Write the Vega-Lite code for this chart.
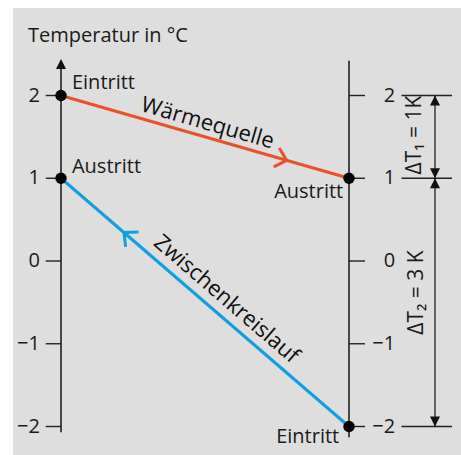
{
  "$schema": "https://vega.github.io/schema/vega-lite/v6.json",
  "width": 448,
  "height": 447,
  "padding": {"left": 13, "top": 8, "right": 0, "bottom": 0},
  "autosize": {"type": "none"},
  "background": "white",
  "config": {"view": {"fill": "#dedede", "stroke": null}, "font": "Open Sans"},
  "datasets": {
    "axes": [{"x": 0, "y": -2.07, "y2": 2.33}, {"x": 1, "y": -2.13, "y2": 2.42}],
    "ticks": [
      {"x": -0.053, "x2": 0, "y": 2}, {"x": -0.053, "x2": 0, "y": 1}, {"x": -0.053, "x2": 0, "y": 0}, {"x": -0.053, "x2": 0, "y": -1}, {"x": -0.053, "x2": 0, "y": -2},
      {"x": 1, "x2": 1.0556, "y": 2}, {"x": 1, "x2": 1.0556, "y": 1}, {"x": 1, "x2": 1.0556, "y": 0}, {"x": 1, "x2": 1.0556, "y": -1}, {"x": 1, "x2": 1.0556, "y": -2}
    ],
    "ticklabels": [
      {"x": -0.073, "y": 2, "label": "2"}, {"x": -0.073, "y": 1, "label": "1"}, {"x": -0.073, "y": 0, "label": "0"}, {"x": -0.073, "y": -1, "label": "−1"}, {"x": -0.073, "y": -2, "label": "−2"},
      {"x": 1.16, "y": 2, "label": "2"}, {"x": 1.16, "y": 1, "label": "1"}, {"x": 1.16, "y": 0, "label": "0"}, {"x": 1.16, "y": -1, "label": "−1"}, {"x": 1.16, "y": -2, "label": "−2"}
    ],
    "dimlines": [{"x": 1.1823, "x2": 1.3576, "y": 2}, {"x": 1.1823, "x2": 1.3576, "y": 1}, {"x": 1.1823, "x2": 1.3576, "y": -2}],
    "dimarrows": [{"x": 1.2986, "y": 2, "y2": 1}, {"x": 1.2986, "y": 1, "y2": -2}],
    "headsup": [{"x": 1.2986, "y": 2}, {"x": 1.2986, "y": 1}, {"x": 0, "y": 2.44}],
    "headsdown": [{"x": 1.2986, "y": 1}, {"x": 1.2986, "y": -2}],
    "lines": [
      {"series": "Wärmequelle", "x": 0, "y": 2}, {"series": "Wärmequelle", "x": 1, "y": 1},
      {"series": "Zwischenkreislauf", "x": 0, "y": 1}, {"series": "Zwischenkreislauf", "x": 1, "y": -2}
    ],
    "chevred": [{"x": 0.7837, "y": 1.2163}],
    "chevblue": [{"x": 0.2188, "y": 0.3437}],
    "labelsleft": [{"x": 0.038, "y": 2.157, "label": "Eintritt"}, {"x": 0.038, "y": 1.13, "label": "Austritt"}],
    "labelsright": [{"x": 0.98, "y": 0.834, "label": "Austritt"}, {"x": 0.966, "y": -2.127, "label": "Eintritt"}],
    "namered": [{"x": 0.509, "y": 1.668, "label": "Wärmequelle"}],
    "nameblue": [{"x": 0.5747, "y": -0.459, "label": "Zwischenkreislauf"}],
    "deltas": [{"x": 1.2309, "y": 1.5227, "label": "ΔT₁ = 1K"}, {"x": 1.2344, "y": -0.3807, "label": "ΔT₂ = 3 K"}],
    "title": [{"x": -0.1146, "y": 2.719, "label": "Temperatur in °C"}]
  },
  "encoding": {
    "x": {"field": "x", "type": "quantitative", "scale": {"domain": [-0.1667, 1.3889], "nice": false, "zero": false}, "axis": null},
    "y": {"field": "y", "type": "quantitative", "scale": {"domain": [-2.3444, 3.0574], "nice": false, "zero": false}, "axis": null}
  },
  "layer": [
    {"data": {"name": "axes"}, "mark": {"type": "rule", "color": "#222222", "strokeWidth": 1.6}, "encoding": {"y2": {"field": "y2"}}},
    {"data": {"name": "ticks"}, "mark": {"type": "rule", "color": "#222222", "strokeWidth": 1.4}, "encoding": {"x2": {"field": "x2"}}},
    {"data": {"name": "ticklabels"}, "mark": {"type": "text", "align": "right", "baseline": "middle", "fontSize": 20, "color": "#1a1a1a"}, "encoding": {"text": {"field": "label"}}},
    {"data": {"name": "dimlines"}, "mark": {"type": "rule", "color": "#222222", "strokeWidth": 1.3}, "encoding": {"x2": {"field": "x2"}}},
    {"data": {"name": "dimarrows"}, "mark": {"type": "rule", "color": "#222222", "strokeWidth": 1.3}, "encoding": {"y2": {"field": "y2"}}},
    {"data": {"name": "headsup"}, "mark": {"type": "point", "shape": "M0,0L-0.5,1L0.5,1Z", "size": 400, "filled": true, "opacity": 1, "color": "#111111", "strokeWidth": 0}},
    {"data": {"name": "headsdown"}, "mark": {"type": "point", "shape": "M0,0L-0.5,-1L0.5,-1Z", "size": 400, "filled": true, "opacity": 1, "color": "#111111", "strokeWidth": 0}},
    {"data": {"name": "lines"}, "mark": {"type": "line", "strokeWidth": 3}, "encoding": {"color": {"field": "series", "type": "nominal", "scale": {"domain": ["Wärmequelle", "Zwischenkreislauf"], "range": ["#e8512a", "#109fdf"]}, "legend": null}}},
    {"data": {"name": "chevred"}, "mark": {"type": "point", "shape": "M-1,-0.93L0,0L-1,0.93", "size": 450, "filled": false, "opacity": 1, "stroke": "#e8512a", "strokeWidth": 3, "angle": 16}},
    {"data": {"name": "chevblue"}, "mark": {"type": "point", "shape": "M-1,-0.93L0,0L-1,0.93", "size": 450, "filled": false, "opacity": 1, "stroke": "#109fdf", "strokeWidth": 3, "angle": 220.8}},
    {"data": {"name": "lines"}, "mark": {"type": "point", "shape": "circle", "size": 130, "filled": true, "opacity": 1, "color": "#000000"}},
    {"data": {"name": "labelsleft"}, "mark": {"type": "text", "align": "left", "baseline": "middle", "fontSize": 20, "color": "#1a1a1a"}, "encoding": {"text": {"field": "label"}}},
    {"data": {"name": "labelsright"}, "mark": {"type": "text", "align": "right", "baseline": "middle", "fontSize": 20, "color": "#1a1a1a"}, "encoding": {"text": {"field": "label"}}},
    {"data": {"name": "namered"}, "mark": {"type": "text", "align": "center", "baseline": "middle", "fontSize": 22, "angle": 16, "color": "#111111"}, "encoding": {"text": {"field": "label"}}},
    {"data": {"name": "nameblue"}, "mark": {"type": "text", "align": "center", "baseline": "middle", "fontSize": 22, "angle": 40.8, "color": "#111111"}, "encoding": {"text": {"field": "label"}}},
    {"data": {"name": "deltas"}, "mark": {"type": "text", "align": "center", "baseline": "middle", "fontSize": 21, "angle": 270, "color": "#1a1a1a"}, "encoding": {"text": {"field": "label"}}},
    {"data": {"name": "title"}, "mark": {"type": "text", "align": "left", "baseline": "middle", "fontSize": 20, "color": "#1a1a1a"}, "encoding": {"text": {"field": "label"}}}
  ]
}
